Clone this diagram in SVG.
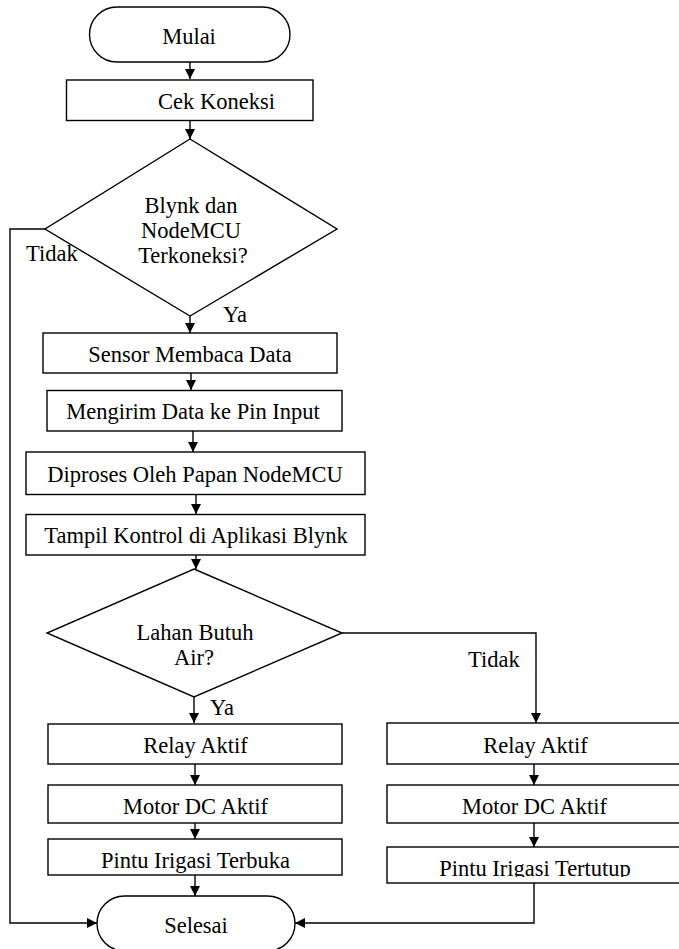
<svg xmlns="http://www.w3.org/2000/svg" width="679" height="949" viewBox="0 0 679 949">
<style>
.s{fill:#fff;stroke:#000;stroke-width:1.4}
text{font-family:'Liberation Serif','Times New Roman',Times,serif;font-size:22.5px;fill:#000}
.t{text-anchor:middle}
.c{fill:none;stroke:#000;stroke-width:1.4}
</style>
<defs>
<marker id="ah" markerUnits="userSpaceOnUse" viewBox="0 0 10 10" markerWidth="10" markerHeight="10" refX="10" refY="5" orient="auto">
<path d="M0,0 L10,5 L0,10 z" fill="#000"/>
</marker>
<clipPath id="cp1"><rect x="48" y="839" width="294" height="34"/></clipPath>
<clipPath id="cp2"><rect x="387" y="847" width="300" height="30"/></clipPath>
</defs>
<rect width="679" height="949" fill="#fff"/>
<g id="connectors">
<path class="c" d="M190,62 V79" marker-end="url(#ah)"/>
<path class="c" d="M190,121 V139" marker-end="url(#ah)"/>
<path class="c" d="M190,316 V333" marker-end="url(#ah)"/>
<path class="c" d="M191,373 V390" marker-end="url(#ah)"/>
<path class="c" d="M193,431 V452" marker-end="url(#ah)"/>
<path class="c" d="M196,495 V514" marker-end="url(#ah)"/>
<path class="c" d="M196,555 V569" marker-end="url(#ah)"/>
<path class="c" d="M194,697 V723" marker-end="url(#ah)"/>
<path class="c" d="M342,633 H536 V723" marker-end="url(#ah)"/>
<path class="c" d="M195,764 V785" marker-end="url(#ah)"/>
<path class="c" d="M195,823 V839" marker-end="url(#ah)"/>
<path class="c" d="M195,875 V896" marker-end="url(#ah)"/>
<path class="c" d="M534,764 V785" marker-end="url(#ah)"/>
<path class="c" d="M534,823 V847" marker-end="url(#ah)"/>
<path class="c" d="M45,229 H10 V923 H97" marker-end="url(#ah)"/>
<path class="c" d="M534,883 V923 H295" marker-end="url(#ah)"/>
<text x="26" y="261">Tidak</text>
<text x="223" y="322">Ya</text>
<text x="210" y="715">Ya</text>
<text x="468" y="667">Tidak</text>
</g>
<g id="mulai">
<rect class="s" x="89.5" y="7" width="200.5" height="55" rx="27.5" ry="27.5"/>
<text class="t" x="189" y="44">Mulai</text>
</g>
<g id="cek-koneksi">
<rect class="s" x="66.5" y="80" width="246.5" height="40.5"/>
<text class="t" x="216.5" y="109">Cek Koneksi</text>
</g>
<g id="decision-koneksi">
<polygon class="s" points="190,139 337,229 190,316 45,229"/>
<text class="t" x="191" y="213">Blynk dan</text>
<text class="t" x="191" y="238">NodeMCU</text>
<text class="t" x="193" y="263">Terkoneksi?</text>
</g>
<g id="sensor">
<rect class="s" x="43" y="333" width="294" height="40"/>
<text class="t" x="190" y="362">Sensor Membaca Data</text>
</g>
<g id="mengirim">
<rect class="s" x="47" y="390.5" width="295" height="40.5"/>
<text class="t" x="193" y="419">Mengirim Data ke Pin Input</text>
</g>
<g id="diproses">
<rect class="s" x="26" y="452" width="339" height="42.5"/>
<text class="t" x="195" y="482">Diproses Oleh Papan NodeMCU</text>
</g>
<g id="tampil">
<rect class="s" x="26" y="514.5" width="339" height="40.5"/>
<text class="t" x="196" y="543">Tampil Kontrol di Aplikasi Blynk</text>
</g>
<g id="decision-air">
<polygon class="s" points="194,569 342,633 194,697 47,633"/>
<text class="t" x="195" y="640">Lahan Butuh</text>
<text class="t" x="194" y="665">Air?</text>
</g>
<g id="relay-ya">
<rect class="s" x="48" y="724" width="294" height="40"/>
<text class="t" x="195.5" y="753">Relay Aktif</text>
</g>
<g id="motor-ya">
<rect class="s" x="48" y="785" width="294" height="38"/>
<text class="t" x="195.5" y="814">Motor DC Aktif</text>
</g>
<g id="pintu-terbuka">
<rect class="s" x="48" y="839" width="294" height="36"/>
<text class="t" x="195.5" y="868" clip-path="url(#cp1)">Pintu Irigasi Terbuka</text>
</g>
<g id="relay-tidak">
<rect class="s" x="387" y="723" width="310" height="41"/>
<text class="t" x="535.5" y="753">Relay Aktif</text>
</g>
<g id="motor-tidak">
<rect class="s" x="387" y="785" width="310" height="38"/>
<text class="t" x="534.5" y="814">Motor DC Aktif</text>
</g>
<g id="pintu-tertutup">
<rect class="s" x="387" y="847" width="310" height="36"/>
<text class="t" x="535" y="876" clip-path="url(#cp2)">Pintu Irigasi Tertutup</text>
</g>
<g id="selesai">
<rect class="s" x="97" y="896" width="198" height="55" rx="27.5" ry="27.5"/>
<text class="t" x="196" y="933">Selesai</text>
</g>
</svg>
